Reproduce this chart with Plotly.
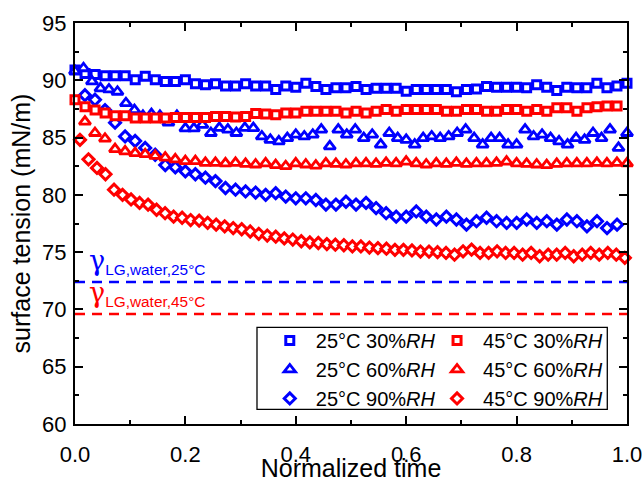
import numpy as np
import plotly.graph_objects as go

# ---------------- data ----------------
# 25 °C 30 %RH  (squares, blue)
y_25_30 = [90.9, 90.6, 90.5, 90.4, 90.4, 90.4, 90.05, 90.35, 90.05, 89.9, 89.9, 90.05,
           89.7, 89.6, 89.7, 89.5, 89.5, 89.7, 89.5, 89.5, 89.2, 89.5, 89.4, 89.75,
           89.45, 89.2, 89.35, 89.35, 89.45, 89.2, 89.3, 89.3, 89.3, 89.05, 89.2, 89.2,
           89.2, 89.2, 89.0, 89.2, 89.25, 89.45, 89.4, 89.4, 89.4, 89.35, 89.6, 89.4,
           89.1, 89.4, 89.35, 89.35, 89.75, 89.35, 89.5, 89.75]
t_25_30 = (0.0, 1.0)

# 45 °C 30 %RH  (squares, red)
y_45_30 = [88.3, 87.7, 87.4, 87.15, 86.9, 86.9, 86.7, 86.7, 86.7, 86.7, 86.75, 86.75,
           86.75, 86.75, 86.85, 86.85, 86.8, 86.85, 87.1, 87.05, 87.0, 87.15, 87.15, 87.3,
           87.3, 87.3, 87.3, 87.15, 87.3, 87.15, 87.3, 87.45, 87.3, 87.45, 87.45, 87.45,
           87.45, 87.3, 87.3, 87.45, 87.45, 87.3, 87.3, 87.45, 87.45, 87.3, 87.45, 87.3,
           87.6, 87.6, 87.3, 87.6, 87.7, 87.75, 87.75]
t_45_30 = (0.0, 0.982)

# 25 °C 60 %RH  (triangles, blue)
y_25_60 = [90.8, 91.05, 89.9, 89.3, 89.2, 89.0, 88.0, 87.4, 86.9, 87.05, 86.9, 86.3,
           86.9, 85.8, 85.8, 86.1, 85.4, 85.85, 85.7, 85.4, 85.85, 85.83, 85.1, 84.8,
           84.67, 84.96, 85.25, 85.1, 85.25, 85.7, 84.23, 85.7, 85.25, 85.7, 84.96, 85.25,
           84.38, 85.4, 84.96, 84.8, 84.38, 84.96, 85.1, 84.96, 85.1, 85.4, 85.7, 84.96,
           84.38, 84.96, 84.96, 84.38, 84.38, 85.7, 85.1, 85.25, 84.96, 84.67, 84.38, 84.96,
           84.8, 85.4, 84.96, 85.7, 84.1, 85.4]
t_25_60 = (0.0, 1.0)

# 45 °C 60 %RH  (triangles, red)
y_45_60 = [86.4, 85.4, 84.9, 84.0, 83.8, 83.65, 83.55, 83.4, 83.25, 83.1, 82.95, 82.95,
           82.8, 82.8, 82.75, 82.8, 82.7, 82.65, 82.75, 82.6, 82.5, 82.75, 82.65, 82.55,
           82.75, 82.7, 82.65, 82.75, 82.75, 82.7, 82.8, 82.75, 82.9, 82.75, 82.65, 82.75,
           82.7, 82.8, 82.7, 82.75, 82.75, 82.8, 82.9, 82.75, 82.7, 82.65, 82.6, 82.7,
           82.75, 82.75, 82.75, 82.8, 82.75, 82.8, 82.75]
t_45_60 = (0.018, 1.0)

# 25 °C 90 %RH  (diamonds, blue)
y_25_90 = [88.7, 88.3, 87.4, 86.3, 85.1, 84.7, 84.1, 83.5, 82.6, 82.4, 82.05, 81.8,
           81.5, 81.2, 80.6, 80.45, 80.3, 80.2, 80.0, 80.15, 79.85, 79.7, 79.7, 79.55,
           79.15, 79.15, 79.4, 79.15, 79.3, 78.85, 78.4, 78.1, 78.1, 78.55, 78.1, 77.85,
           78.1, 77.85, 77.4, 77.7, 78.0, 77.7, 77.55, 77.55, 77.85, 77.55, 77.7, 77.4,
           77.85, 77.7, 77.25, 77.7, 77.1, 77.4]
t_25_90 = (0.018, 0.982)

# 45 °C 90 %RH  (diamonds, red)
y_45_90 = [84.8, 83.1, 82.35, 81.8, 80.45, 80.0, 79.6, 79.3, 79.15, 78.7, 78.4, 78.1,
           78.0, 77.8, 77.75, 77.55, 77.4, 77.25, 77.1, 77.0, 76.8, 76.6, 76.45, 76.35,
           76.2, 76.1, 75.95, 75.85, 75.8, 75.7, 75.65, 75.6, 75.5, 75.5, 75.4, 75.35,
           75.3, 75.2, 75.2, 75.15, 75.05, 75.05, 75.0, 74.93, 74.78, 75.07, 75.22, 74.93,
           74.93, 75.07, 74.93, 74.93, 74.78, 74.93, 74.64, 74.78, 74.78, 74.93, 74.64, 74.78,
           74.93, 74.78, 74.93, 74.78, 74.5]
t_45_90 = (0.009, 0.996)

# reference surface tension of water
water_refs = [72.4, 69.6]
water_labels = ["25°C", "45°C"]
time_span = [0.0, 1.0]

BLUE = "#0000FF"
RED = "#FF0000"

series = [
    ("25°C 30%<i>RH</i>", y_25_30, t_25_30, BLUE, "square", 8, "legend"),
    ("25°C 60%<i>RH</i>", y_25_60, t_25_60, BLUE, "triangle-up", 10, "legend"),
    ("25°C 90%<i>RH</i>", y_25_90, t_25_90, BLUE, "diamond", 8.5, "legend"),
    ("45°C 30%<i>RH</i>", y_45_30, t_45_30, RED, "square", 8, "legend2"),
    ("45°C 60%<i>RH</i>", y_45_60, t_45_60, RED, "triangle-up", 10, "legend2"),
    ("45°C 90%<i>RH</i>", y_45_90, t_45_90, RED, "diamond", 8.5, "legend2"),
]

fig = go.Figure()

# dashed reference lines
for val, col in zip(water_refs, [BLUE, RED]):
    fig.add_trace(go.Scatter(x=time_span, y=[val, val], mode="lines",
                             line=dict(color=col, width=2.5, dash="10px,7px"),
                             showlegend=False, hoverinfo="skip"))

for name, ys, (t0, t1), col, sym, size, leg in series:
    t = np.linspace(t0, t1, len(ys))
    lw = 2.8 if sym == "triangle-up" else 3.0
    fig.add_trace(go.Scatter(
        x=t, y=ys, mode="markers", name=name, legend=leg,
        marker=dict(symbol=sym, size=size, color="white", line=dict(color=col, width=lw)),
        cliponaxis=False,
    ))

axis_common = dict(
    showline=True, linewidth=2, linecolor="black", mirror="ticks",
    ticks="inside", ticklen=8, tickwidth=1.5, tickcolor="black",
    showgrid=False, zeroline=False, automargin=False,
    tickfont=dict(size=22, color="black"),
)

fig.update_xaxes(range=[0, 1], dtick=0.2, tick0=0, tickformat=".1f", ticklabelstandoff=10,
                 minor=dict(ticks="inside", ticklen=4, dtick=0.1, tickwidth=1.5, tickcolor="black"),
                 title=dict(text="Normalized time", font=dict(size=25), standoff=4),
                 **axis_common)
fig.update_yaxes(range=[60, 95], dtick=5, tick0=60, ticklabelstandoff=2,
                 minor=dict(ticks="inside", ticklen=4, dtick=2.5, tickwidth=1.5, tickcolor="black"),
                 title=dict(text="surface tension (mN/m)", font=dict(size=25), standoff=4),
                 **axis_common)

# legend box
fig.add_shape(type="rect", xref="paper", yref="paper",
              x0=0.3297, x1=0.9643, y0=0.0367, y1=0.2411,
              line=dict(color="black", width=1.3), fillcolor="white", layer="below")

# water annotations
for val, col, lab in zip(water_refs, [BLUE, RED], water_labels):
    fig.add_annotation(
        x=0.021, xref="paper", y=val, yref="y", xanchor="left", yanchor="bottom",
        yshift=2, showarrow=False,
        text='<span style="font-family:DejaVu Serif;font-size:27px">γ</span>'
             '<sub>LG,water,' + lab + '</sub>',
        font=dict(size=22, color=col, family="Liberation Sans"),
    )

leg_common = dict(xanchor="left", yanchor="top", y=0.257, bgcolor="rgba(0,0,0,0)",
                  borderwidth=0, font=dict(size=20, color="black"), tracegroupgap=0,
                  itemwidth=42)
fig.update_layout(
    width=644, height=482,
    margin=dict(l=75, r=17, t=23, b=58),
    plot_bgcolor="white", paper_bgcolor="white",
    font=dict(family="Liberation Sans, Arial, sans-serif", color="black"),
    legend=dict(x=0.342, **leg_common),
    legend2=dict(x=0.645, **leg_common),
)

fig.write_html("out.html")
